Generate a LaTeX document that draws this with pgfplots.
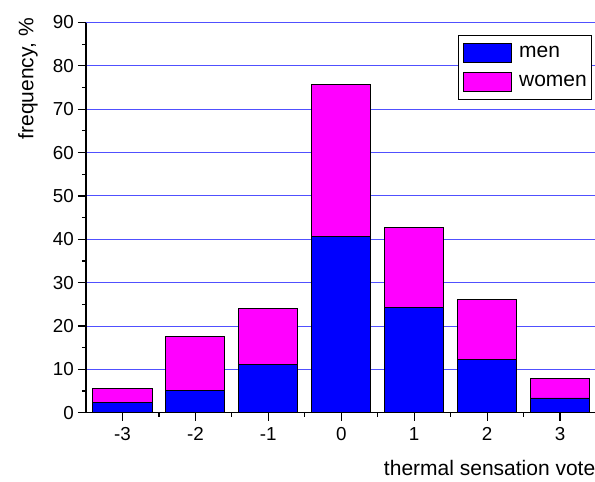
\documentclass[border=0pt]{standalone}
\usepackage{pgfplots}
\pgfplotsset{compat=1.18}
\usepackage{fontspec}
\setmainfont{Liberation Sans}
\definecolor{menblue}{RGB}{0,0,255}
\definecolor{womenmag}{RGB}{255,0,255}
\definecolor{gridblue}{RGB}{80,80,255}
\begin{document}
\begin{tikzpicture}
\begin{axis}[
  scale only axis,
  width=510.5pt, height=390.2pt,
  xmin=-3.5, xmax=3.5,
  ymin=0, ymax=90,
  axis lines*=left,
  axis line style={line width=1.2pt},
  ybar stacked,
  bar width=0.81,
  xtick={-3,-2,-1,0,1,2,3},
  xticklabels={-3,-2,-1,0,1,2,3},
  minor x tick num=1,
  ytick={0,10,...,90},
  minor y tick num=1,
  tick align=outside,
  major tick length=8pt,
  minor tick length=4pt,
  tick style={line width=1.2pt, black},
  ymajorgrids,
  major grid style={line width=0.9pt, gridblue},
  /pgf/number format/assume math mode=true,
  ticklabel style={font=\fontsize{18.8}{22}\selectfont},
  yticklabel style={inner xsep=4pt},
  xticklabel style={yshift=-3pt},
  xlabel={thermal sensation vote},
  ylabel={frequency, \%},
  label style={font=\fontsize{21}{25}\selectfont},
  xlabel style={at={(axis description cs:0.998,-0.1597)}, anchor=base east, inner sep=0pt},
  ylabel style={at={(axis description cs:-0.1032,1.0115)}, anchor=base east, inner sep=0pt},
  legend image code/.code={\draw[#1] (0pt,-9.5pt) rectangle (48pt,9.5pt);},
  legend cell align=left,
  legend style={at={(axis description cs:0.7293,0.968)}, anchor=north west,
    draw=black, line width=1pt, inner xsep=4.4pt, inner ysep=7.5pt,
    row sep=9pt, column sep=7pt,
    font=\fontsize{21}{25}\selectfont,
    nodes={inner sep=0pt}},
]
\addplot[fill=menblue, draw=black, line width=0.9pt] coordinates {
  (-3,2.4) (-2,5.1) (-1,11.2) (0,40.6) (1,24.3) (2,12.2) (3,3.4)};
\addlegendentry{men}
\addplot[fill=womenmag, draw=black, line width=0.9pt] coordinates {
  (-3,3.2) (-2,12.4) (-1,12.9) (0,35.2) (1,18.4) (2,13.9) (3,4.4)};
\addlegendentry{women}
\end{axis}
\pgfresetboundingbox
\useasboundingbox (-86pt,-69.3pt) rectangle (509pt,412.7pt);
\end{tikzpicture}
\end{document}
